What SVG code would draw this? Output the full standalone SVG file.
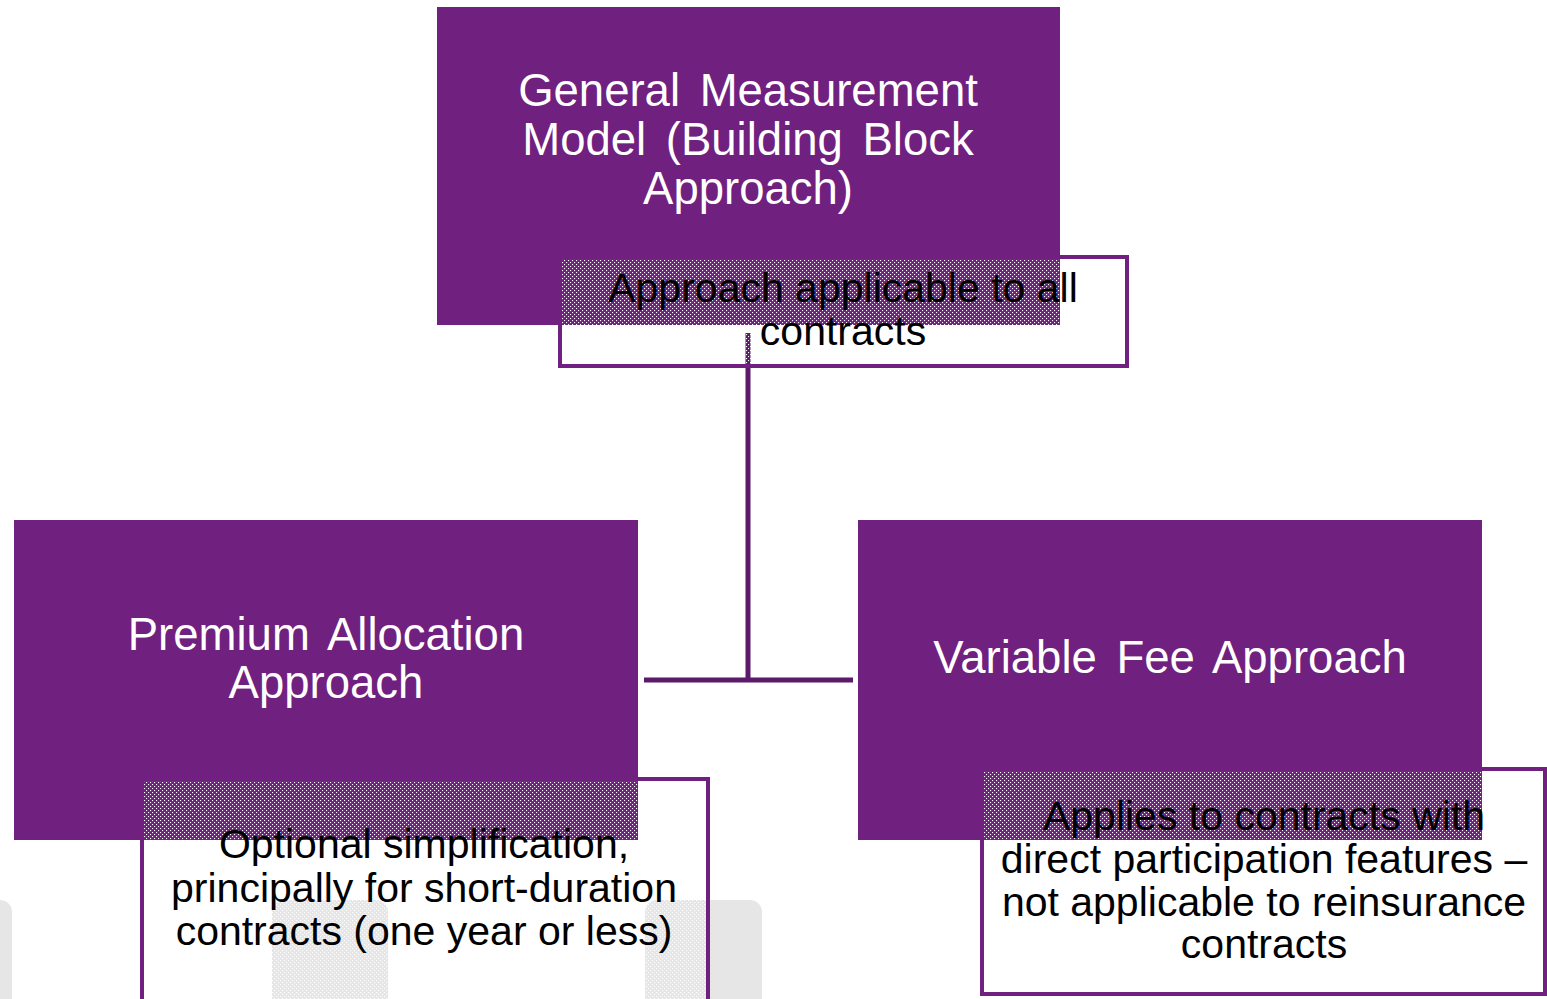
<svg xmlns="http://www.w3.org/2000/svg" width="1547" height="999" viewBox="0 0 1547 999">
<defs>
<pattern id="dots" x="0" y="0" width="4" height="4" patternUnits="userSpaceOnUse">
<rect x="0" y="0" width="1.1" height="1.1" fill="#ffffff"/>
<rect x="2" y="2" width="1.1" height="1.1" fill="#ffffff"/>
</pattern>
</defs>
<style>
.main{fill:#70207f;}
.sub{fill:url(#dots);stroke:#70207f;stroke-width:4;}
.conn{stroke:#5b1a6a;stroke-width:5;fill:none;}
.bg{fill:#e6e6e6;}
.wt{font-family:"Liberation Sans",Arial,sans-serif;font-size:45.5px;word-spacing:7px;fill:#ffffff;text-anchor:middle;}
.bt{font-family:"Liberation Sans",Arial,sans-serif;font-size:41px;fill:#000000;text-anchor:middle;}
</style>
<g id="background">
<rect class="bg" x="-20" y="900" width="32" height="120" rx="12"/>
<rect class="bg" x="272" y="900" width="116" height="120" rx="12"/>
<rect class="bg" x="645" y="900" width="117" height="120" rx="12"/>
</g>
<g id="connectors">
<line class="conn" x1="748" y1="333" x2="748" y2="682"/>
<line class="conn" x1="644" y1="680" x2="853" y2="680"/>
</g>
<g id="node-gmm">
<rect class="main" x="437" y="7" width="623" height="318"/>
<text class="wt" x="748" y="106">General Measurement</text>
<text class="wt" x="748" y="155">Model (Building Block</text>
<text class="wt" x="748" y="204">Approach)</text>
</g>
<g id="node-paa">
<rect class="main" x="14" y="520" width="624" height="320"/>
<text class="wt" x="326" y="650">Premium Allocation</text>
<text class="wt" x="326" y="698">Approach</text>
</g>
<g id="node-vfa">
<rect class="main" x="858" y="520" width="624" height="320"/>
<text class="wt" x="1170" y="673">Variable Fee Approach</text>
</g>
<g id="note-gmm">
<rect class="sub" x="560" y="257" width="567" height="109"/>
<text class="bt" x="843" y="302">Approach applicable to all</text>
<text class="bt" x="843" y="345">contracts</text>
</g>
<g id="note-paa">
<rect class="sub" x="142" y="779" width="566" height="240"/>
<text class="bt" x="424" y="858">Optional simplification,</text>
<text class="bt" x="424" y="902">principally for short-duration</text>
<text class="bt" x="424" y="945">contracts (one year or less)</text>
</g>
<g id="note-vfa">
<rect class="sub" x="982" y="769" width="563" height="225"/>
<text class="bt" x="1264" y="830">Applies to contracts with</text>
<text class="bt" x="1264" y="873">direct participation features –</text>
<text class="bt" x="1264" y="916">not applicable to reinsurance</text>
<text class="bt" x="1264" y="958">contracts</text>
</g>
</svg>
